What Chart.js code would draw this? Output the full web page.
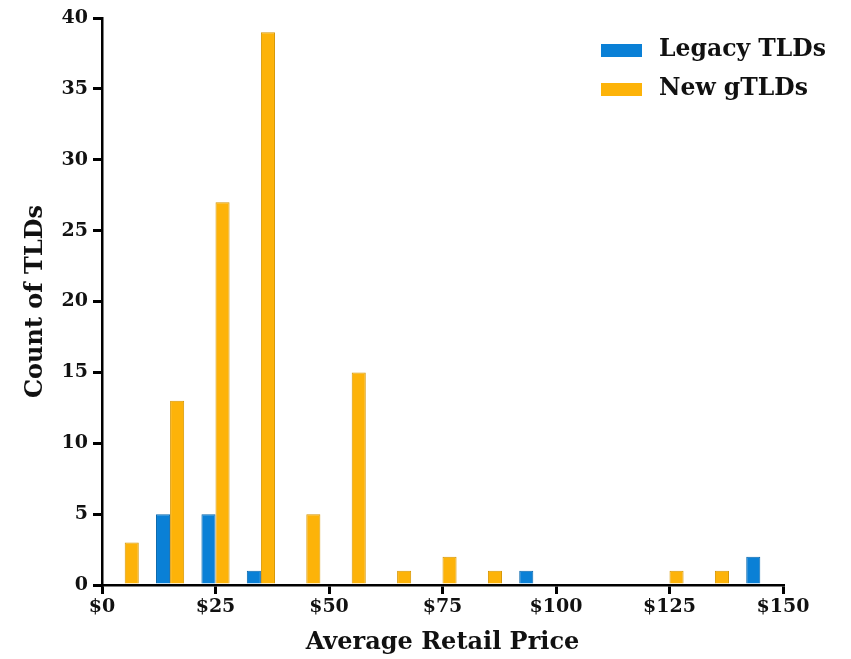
<!DOCTYPE html>
<html>
<head>
<meta charset="utf-8">
<script src="https://cdn.jsdelivr.net/npm/chart.js@4"></script>
<style>
  html, body { margin: 0; padding: 0; background: #fff; }
  #wrap { width: 851px; height: 659px; }
</style>
</head>
<body>
<div id="wrap"><canvas id="chart" width="851" height="659"></canvas></div>
<script>
// ── Data ──────────────────────────────────────────────────────────────────────
const bins = ["$0-10", "$10-20", "$20-30", "$30-40", "$40-50", "$50-60", "$60-70", "$70-80",
              "$80-90", "$90-100", "$100-110", "$110-120", "$120-130", "$130-140", "$140-150"];
const legacyCounts = [0, 5, 5, 1, 0, 0, 0, 0, 0, 1, 0, 0, 0, 0, 2];
const newCounts    = [3, 13, 27, 39, 5, 15, 1, 2, 1, 0, 0, 0, 1, 1, 0];
const priceTicks = [0, 25, 50, 75, 100, 125, 150];

const FONT = "'DejaVu Serif', serif";
const BLUE = "#0a80d6";
const ORANGE = "#fdb309";

// legend drawn inside the plot, top right
const insideLegend = {
    id: "insideLegend",
    afterDraw(chart) {
        const ctx = chart.ctx;
        ctx.save();
        ctx.font = `bold 23.5px ${FONT}`;
        ctx.textBaseline = "middle";
        chart.data.datasets.forEach((ds, i) => {
            const y = 50 + i * 39;
            ctx.fillStyle = ds.backgroundColor;
            ctx.fillRect(601, y - 6, 41, 13);
            ctx.fillStyle = "#111";
            ctx.fillText(ds.label, 659, y);
        });
        ctx.restore();
    }
};

new Chart(document.getElementById("chart"), {
    type: "bar",
    data: {
        labels: bins,
        datasets: [
            { label: "Legacy TLDs", data: legacyCounts, backgroundColor: BLUE,
              borderColor: "#0867ad", borderWidth: 1, borderSkipped: "bottom" },
            { label: "New gTLDs", data: newCounts, backgroundColor: ORANGE,
              borderColor: "#d69600", borderWidth: 1, borderSkipped: "bottom" }
        ]
    },
    options: {
        responsive: false,
        animation: false,
        layout: { padding: { left: 8, right: 68, top: 18, bottom: 2 } },
        categoryPercentage: 0.62,
        barPercentage: 1.0,
        plugins: {
            legend: { display: false },
            tooltip: { enabled: false }
        },
        scales: {
            x: { display: false },
            price: {
                type: "linear",
                position: "bottom",
                offset: false,
                min: 0,
                max: 150,
                afterBuildTicks: s => { s.ticks = priceTicks.map(v => ({ value: v })); },
                ticks: {
                    color: "#111",
                    font: { family: FONT, size: 19, weight: "bold" },
                    padding: 2,
                    maxRotation: 0,
                    callback: v => "$" + v
                },
                grid: { offset: false, drawOnChartArea: false, color: "#000", lineWidth: 3, tickLength: 9 },
                border: { color: "#000", width: 2.5 },
                title: {
                    display: true,
                    text: "Average Retail Price",
                    color: "#111",
                    font: { family: FONT, size: 24, weight: "bold" },
                    padding: { top: 2, bottom: 0 }
                },
                afterFit: s => { s.height = 72; }
            },
            y: {
                min: 0,
                max: 40,
                ticks: {
                    stepSize: 5,
                    color: "#111",
                    font: { family: FONT, size: 19, weight: "bold" },
                    padding: 5
                },
                grid: { drawOnChartArea: false, color: "#000", lineWidth: 3, tickLength: 9 },
                border: { color: "#000", width: 2.5 },
                title: {
                    display: true,
                    text: "Count of TLDs",
                    color: "#111",
                    font: { family: FONT, size: 24, weight: "bold" },
                    padding: { top: 13, bottom: 0 }
                },
                afterFit: s => { s.width = 94; }
            }
        }
    },
    plugins: [insideLegend]
});
</script>
</body>
</html>
